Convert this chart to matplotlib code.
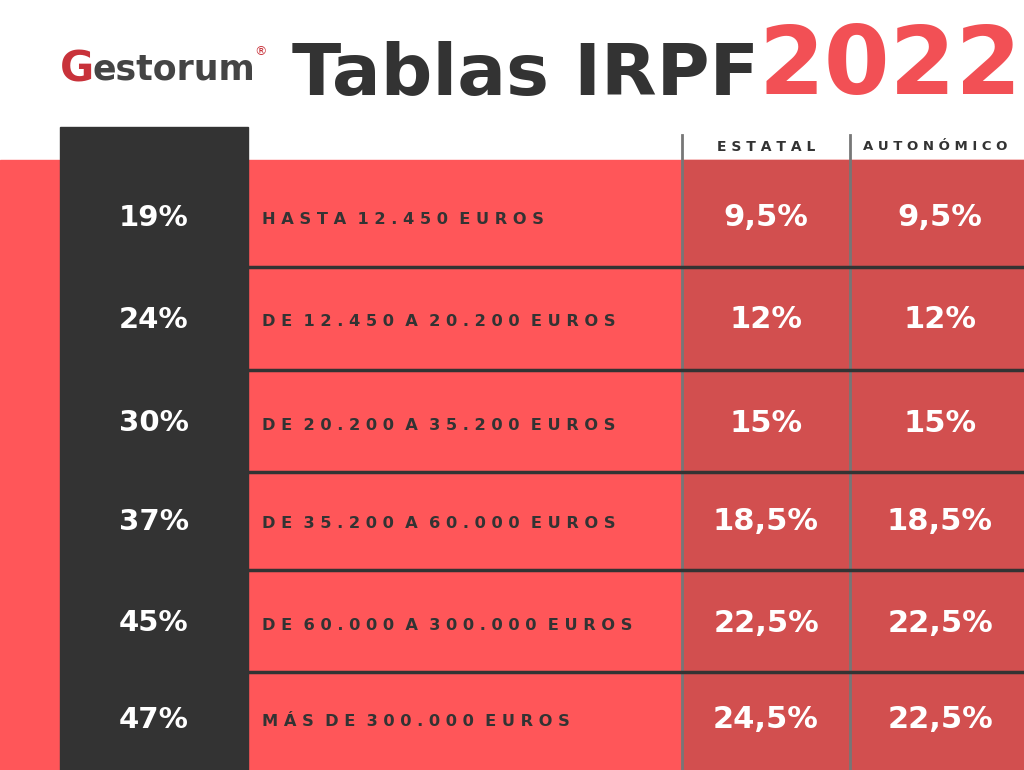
import matplotlib.pyplot as plt
from matplotlib.patches import Rectangle

tipos = ['19%', '24%', '30%', '37%', '45%', '47%']
tramos = ['HASTA 12.450 EUROS', 'DE 12.450 A 20.200 EUROS', 'DE 20.200 A 35.200 EUROS',
          'DE 35.200 A 60.000 EUROS', 'DE 60.000 A 300.000 EUROS', 'MÁS DE 300.000 EUROS']
estatal = ['9,5%', '12%', '15%', '18,5%', '22,5%', '24,5%']
autonomico = ['9,5%', '12%', '15%', '18,5%', '22,5%', '22,5%']
row_y = [218, 320, 423, 522, 623, 720]
sep_y = [267, 370, 472, 570, 672]

RED = '#FF5659'
DARKRED = '#D24F4F'
DARK = '#333333'

fig = plt.figure(figsize=(10.24, 7.70), dpi=100)
ax = fig.add_axes([0, 0, 1, 1])
ax.set_xlim(0, 1024)
ax.set_ylim(770, 0)
ax.axis('off')

ax.add_patch(Rectangle((0, 160), 1024, 610, color=RED))
ax.add_patch(Rectangle((682, 160), 342, 610, color=DARKRED))
ax.add_patch(Rectangle((60, 127), 188, 643, color=DARK))
for x in (682, 850):
    ax.plot([x, x], [135, 770], color='#777777', lw=2)
for y in sep_y:
    ax.plot([248, 1024], [y, y], color=DARK, lw=2.5)

ax.text(766, 147, 'E S T A T A L', ha='center', va='center', fontsize=10, fontweight='bold', color=DARK)
ax.text(935, 147, 'A U T O N Ó M I C O', ha='center', va='center', fontsize=9.5, fontweight='bold', color=DARK)

for i, y in enumerate(row_y):
    ax.text(154, y, tipos[i], ha='center', va='center', fontsize=21, fontweight='bold', color='white')
    ax.text(262, y + 2, ' '.join(tramos[i]).replace('   ', '  '), ha='left', va='center',
            fontsize=11.7, fontweight='bold', color=DARK)
    ax.text(766, y, estatal[i], ha='center', va='center', fontsize=22, fontweight='bold', color='white')
    ax.text(940, y, autonomico[i], ha='center', va='center', fontsize=22, fontweight='bold', color='white')

# cabecera
ax.text(525, 75, 'Tablas IRPF', ha='center', va='center', fontsize=52, fontweight='bold', color=DARK)
ax.text(890, 68, '2022', ha='center', va='center', fontsize=68, fontweight='bold', color='#F25055')
ax.text(60, 70, 'G', ha='left', va='center', fontsize=30, fontweight='bold', color='#C8323A')
ax.text(92, 70, 'estorum', ha='left', va='center', fontsize=25, fontweight='bold', color='#444444')
ax.text(254, 52, '®', ha='left', va='center', fontsize=9, color='#C8323A')

fig.savefig('out.png', dpi=100)
